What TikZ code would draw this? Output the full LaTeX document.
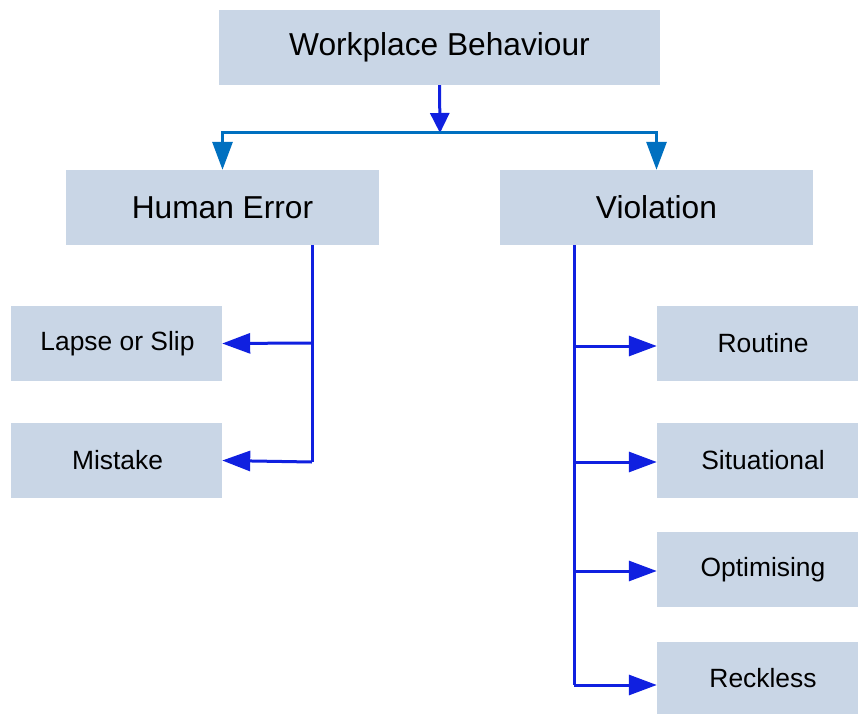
\documentclass[tikz,border=0pt]{standalone}
\usepackage{fontspec}
\setmainfont{Liberation Sans}
\usetikzlibrary{arrows.meta}
\definecolor{boxfill}{HTML}{C9D6E6}
\definecolor{lineblue}{HTML}{1020E0}
\definecolor{midblue}{HTML}{0070C0}
\begin{document}
\begin{tikzpicture}[x=1pt,y=-1pt,
  bigbox/.style={fill=boxfill,draw=none,inner sep=0pt,font=\fontsize{31.7}{36}\selectfont},
  smallbox/.style={fill=boxfill,draw=none,inner sep=0pt,font=\fontsize{26.4}{30}\selectfont},
  conn/.style={draw=lineblue,line width=3pt,line join=miter},
  arr/.style={conn,-{Triangle[length=28pt,width=20pt]}},
  arrtop/.style={conn,-{Triangle[length=20pt,width=19pt]}},
  arrmid/.style={draw=midblue,line width=3pt,-{Triangle[length=28pt,width=20pt]}}]
\useasboundingbox (0,0) rectangle (858,714);
\node[bigbox,minimum width=441pt,minimum height=75pt] (wb) at (439.5,47.5) {Workplace Behaviour};
\node[bigbox,minimum width=313pt,minimum height=75pt] (he) at (222.5,207.5) {Human Error};
\node[bigbox,minimum width=313pt,minimum height=75pt] (vi) at (656.5,207.5) {Violation};
\node[smallbox,minimum width=211pt,minimum height=75pt] (ls) at (116.5,343.5) {\hspace*{2pt}Lapse or Slip};
\node[smallbox,minimum width=211pt,minimum height=75pt] (mi) at (116.5,460.5) {\hspace*{2pt}Mistake};
\node[smallbox,minimum width=201pt,minimum height=75pt] (ro) at (757.5,343.5) {\hspace*{11pt}Routine};
\node[smallbox,minimum width=201pt,minimum height=75pt] (si) at (757.5,460.5) {\hspace*{11pt}Situational};
\node[smallbox,minimum width=201pt,minimum height=75pt] (op) at (757.5,569.5) {\hspace*{11pt}Optimising};
\node[smallbox,minimum width=201pt,minimum height=72pt] (re) at (757.5,678) {\hspace*{11pt}Reckless};
\coordinate (j) at (440,133);
\draw[arrtop] (wb.south) -- (j);
\draw[arrmid] (j) -| (he.north);
\draw[arrmid] (j) -| (vi.north);
% Human Error branch
\coordinate (hx) at (312,245);
\draw[conn] (hx) -- (312,462);
\draw[arr] (312,343) -- (ls.east);
\draw[arr] (312,462) -- (mi.east);
% Violation branch
\coordinate (vx) at (574,245);
\draw[conn] (vx) -- (574,685);
\draw[arr] (574,346) -- (ro.west |- 0,346);
\draw[arr] (574,462) -- (si.west |- 0,462);
\draw[arr] (574,571) -- (op.west |- 0,571);
\draw[arr] (574,685) -- (re.west |- 0,685);
\end{tikzpicture}
\end{document}
